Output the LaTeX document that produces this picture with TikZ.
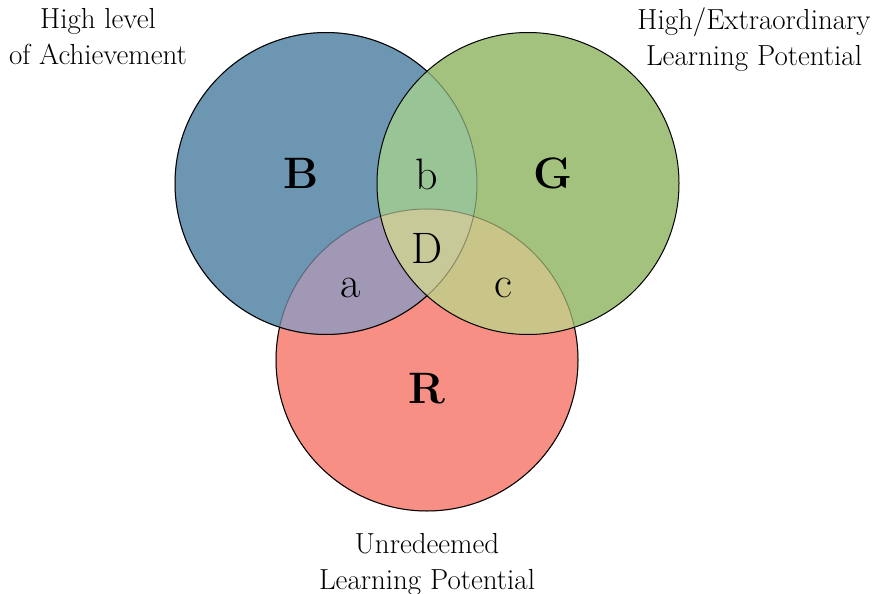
\documentclass[tikz,border=0pt]{standalone}
\definecolor{colB}{RGB}{108,150,178}
\definecolor{colG}{RGB}{163,194,125}
\definecolor{colR}{RGB}{247,143,132}
\definecolor{colBR}{RGB}{160,152,180}
\definecolor{colBG}{RGB}{153,196,150}
\definecolor{colGR}{RGB}{201,196,135}
\definecolor{colD}{RGB}{200,201,152}
\tikzset{
  ring/.style={line width=1pt},
  faint/.style={line width=1pt, draw opacity=0.3},
  setname/.style={font=\fontsize{44}{50}\selectfont\bfseries, anchor=base, inner sep=0pt},
  zone/.style={font=\fontsize{44}{50}\selectfont, anchor=base, inner sep=0pt},
  caption/.style={font=\fontsize{29}{36}\selectfont, align=center, anchor=north, inner sep=0pt}
}
\begin{document}
\begin{tikzpicture}[x=1pt,y=-1pt]
\useasboundingbox (0,0) rectangle (873,594);
\coordinate (cb) at (326,183.5);
\coordinate (cg) at (528,183.5);
\coordinate (cr) at (427,360);

% single-set fills
\fill[colR] (cr) circle[radius=151pt];
\fill[colB] (cb) circle[radius=151pt];
\fill[colG] (cg) circle[radius=151pt];

% pairwise overlaps
\begin{scope}
  \clip (cb) circle[radius=151pt];
  \fill[colBG] (cg) circle[radius=151pt];
  \fill[colBR] (cr) circle[radius=151pt];
\end{scope}
\begin{scope}
  \clip (cg) circle[radius=151pt];
  \fill[colGR] (cr) circle[radius=151pt];
\end{scope}
% triple overlap
\begin{scope}
  \clip (cb) circle[radius=151pt];
  \clip (cg) circle[radius=151pt];
  \fill[colD] (cr) circle[radius=151pt];
\end{scope}

% red outline: faint where covered by blue or green
\draw[faint] (cr) circle[radius=151pt];
\begin{scope}[even odd rule]
  \clip (-20,-20) rectangle (900,620) (cb) circle[radius=151pt];
  \clip (-20,-20) rectangle (900,620) (cg) circle[radius=151pt];
  \draw[ring] (cr) circle[radius=151pt];
\end{scope}
% blue outline: faint where covered by green
\draw[faint] (cb) circle[radius=151pt];
\begin{scope}[even odd rule]
  \clip (-20,-20) rectangle (900,620) (cg) circle[radius=151pt];
  \draw[ring] (cb) circle[radius=151pt];
\end{scope}
% green outline
\draw[ring] (cg) circle[radius=151pt];

% set and region labels
\node[setname] (lB) at (301,188) {B};
\node[setname] (lG) at (553,188) {G};
\node[setname] (lR) at (427,403) {R};
\node[zone] (lb) at (427,189) {b};
\node[zone] (lD) at (427,263) {D};
\node[zone] (la) at (351,297) {a};
\node[zone] (lc) at (503,297) {c};

% captions
\node[caption] (tB) at (98,8) {High level\\of Achievement};
\node[caption] (tG) at (754,7.5) {High/Extraordinary\\Learning Potential};
\node[caption] (tR) at (427,533) {Unredeemed\\Learning Potential};
\end{tikzpicture}
\end{document}
